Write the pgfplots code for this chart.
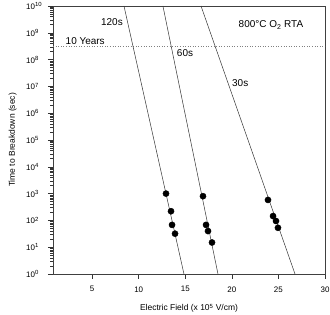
\documentclass[border=0pt]{standalone}
\usepackage{pgfplots}
\pgfplotsset{compat=1.18}
\usepackage{fontspec}
\setmainfont{Liberation Sans}
\newcommand{\tp}[1]{10\textsuperscript{#1}}
\begin{document}
\begin{tikzpicture}
\begin{axis}[
  scale only axis,
  width=272bp, height=268bp,
  xmin=0.8, xmax=30,
  ymode=log, ymin=1, ymax=1e10,
  xtick={5,10,15,20,25,30},
  ytick={1,10,100,1000,1e4,1e5,1e6,1e7,1e8,1e9,1e10},
  yticklabels={\tp{0},\tp{1},\tp{2},\tp{3},\tp{4},\tp{5},\tp{6},\tp{7},\tp{8},\tp{9},\tp{10}},
  minor ytick={},
  tick align=outside,
  xtick pos=bottom, ytick pos=left,
  major tick length=5bp,
  tick style={black!80, line width=0.5pt},
  ticklabel style={font=\fontsize{8}{9}\selectfont},
  yticklabel style={anchor=west, inner sep=0pt, xshift=-22bp},
  xticklabel style={yshift=-4bp},
  /pgf/number format/assume math mode=true,
  xlabel={Electric Field (x 10\textsuperscript{5} V/cm)},
  ylabel={Time to Breakdown (sec)},
  label style={font=\fontsize{8.5}{9}\selectfont},
  xlabel style={at={(axis description cs:0.5,-0.128)}, anchor=center},
  ylabel style={at={(axis description cs:-0.148,0.5)}, anchor=center},
  axis line style={black!75, line width=0.6pt},
  clip=true,
]
\coordinate (ll) at (rel axis cs:0,0);
\coordinate (ur) at (rel axis cs:1,1);
% 10 years line
\addplot[gray, dotted, line width=0.6pt] coordinates {(0.8,3.15e8) (30,3.15e8)};
% fit lines
\addplot[black!80, line width=0.5pt] coordinates {(8.42,1e10) (14.86,1)};
\addplot[black!80, line width=0.5pt] coordinates {(12.6,1e10) (18.51,1)};
\addplot[black!80, line width=0.5pt] coordinates {(16.69,1e10) (26.78,1)};
% data points
\addplot[only marks, mark=*, mark size=3.1pt, black] coordinates {
 (12.93,1000) (13.47,220) (13.58,68) (13.9,32)};
\addplot[only marks, mark=*, mark size=3.1pt, black] coordinates {
 (16.9,800) (17.23,68) (17.44,40) (17.87,15)};
\addplot[only marks, mark=*, mark size=3.1pt, black] coordinates {
 (23.88,580) (24.42,145) (24.74,95) (24.95,53)};
% annotations
\node[font=\fontsize{10}{11}\selectfont, anchor=south west, inner sep=0.5pt] at (axis cs:2.09,3.3e8) {10 Years};
\node[font=\fontsize{10}{11}\selectfont, inner sep=0pt] at (axis cs:7.13,2.5e9) {120s};
\node[font=\fontsize{10}{11}\selectfont, inner sep=0pt] at (axis cs:14.97,1.8e8) {60s};
\node[font=\fontsize{10}{11}\selectfont, inner sep=0pt] at (axis cs:20.9,1.35e7) {30s};
\node[font=\fontsize{10}{11}\selectfont, inner sep=0pt] at (axis cs:24.2,1.95e9) {800\textdegree C O\textsubscript{2} RTA};
\end{axis}
\pgfresetboundingbox
\path[use as bounding box] ([shift={(-53bp,-41bp)}]ll) rectangle ([shift={(5bp,6bp)}]ur);
\end{tikzpicture}
\end{document}
